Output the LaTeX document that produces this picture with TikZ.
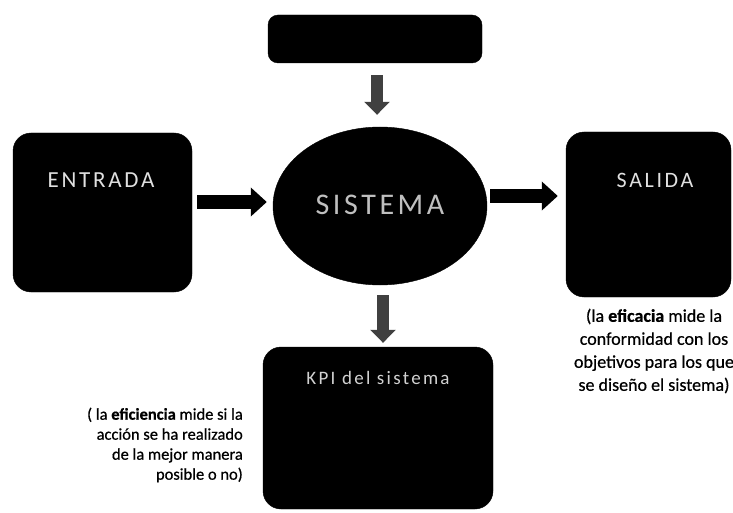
\documentclass[tikz,border=0pt]{standalone}
\usepackage{fontspec}
\setmainfont{Carlito}
\newfontfamily\boxfont[LetterSpace=12]{Carlito}
\newfontfamily\notefont[FakeBold=0.6]{Carlito}
\usetikzlibrary{arrows.meta,shapes.geometric}
\begin{document}
\begin{tikzpicture}[x=1pt,y=-1pt,
  darkbox/.style={fill=black, draw=black, inner sep=0pt, rounded corners=#1},
  darkbox/.default=18pt,
  boxlabel/.style={inner sep=0pt, text=#1},
  hblock/.style={draw=black, line width=13pt, -{Triangle[length=16pt,width=28pt]}},
  vblock/.style={draw=black!75, line width=12pt, -{Triangle[length=13pt,width=25pt]}},
  note/.style={inner sep=0pt, text=black}
]
\useasboundingbox[fill=white] (0,0) rectangle (733,513);

% shapes
\node[darkbox=10pt, minimum width=214pt, minimum height=48pt] (top) at (375,39) {};
\node[darkbox, minimum width=179pt, minimum height=159pt] (entrada) at (102.5,212.5) {};
\node[ellipse, fill=black, draw=black, inner sep=0pt, minimum width=214pt, minimum height=158pt] (sistema) at (380,206) {};
\node[darkbox, minimum width=165pt, minimum height=165pt] (salida) at (648.5,214.5) {};
\node[darkbox, minimum width=230pt, minimum height=162pt] (kpi) at (378,428) {};

% labels in the shapes
\node[boxlabel=black!12, font=\boxfont\fontsize{23}{26}\selectfont] (entradaTxt) at (101,180) {ENTRADA};
\node[boxlabel=black!25, font=\boxfont\fontsize{30}{34}\selectfont] (sistemaTxt) at (380,205) {SISTEMA};
\node[boxlabel=black!12, font=\boxfont\fontsize{22}{26}\selectfont] (salidaTxt) at (655,180) {SALIDA};
\node[boxlabel=black!18, font=\boxfont\fontsize{19}{22}\selectfont] (kpiTxt) at (378,378) {KPI del sistema};

% connectors
\draw[vblock, shorten <=12pt, shorten >=12pt] ([xshift=2pt]top.south) -- ([xshift=2pt]top.south |- sistema.north);
\draw[vblock, shorten <=10pt, shorten >=4pt] ([xshift=3pt]sistema.south) -- ([xshift=3pt]sistema.south |- kpi.north);
\draw[hblock, shorten <=5pt, shorten >=6pt] ([yshift=10.5pt]entrada.east) -- ([yshift=10.5pt]entrada.east -| sistema.west);
\draw[hblock, shorten <=3pt, shorten >=8pt] ([yshift=10pt]sistema.east) -- ([yshift=10pt]sistema.east -| salida.west);

% notes
\node[note, align=center, font=\notefont\fontsize{18}{23}\selectfont] (noteEficacia) at (654,351)
  {(la \textbf{eficacia} mide la\\conformidad con los\\objetivos para los que\\se diseño el sistema)};
\node[note, align=right, anchor=east, font=\notefont\fontsize{16.5}{20}\selectfont] (noteEficiencia) at (243,445)
  {( la \textbf{eficiencia} mide si la\\acción se ha realizado\\de la mejor manera\\posible o no)};
\end{tikzpicture}
\end{document}
